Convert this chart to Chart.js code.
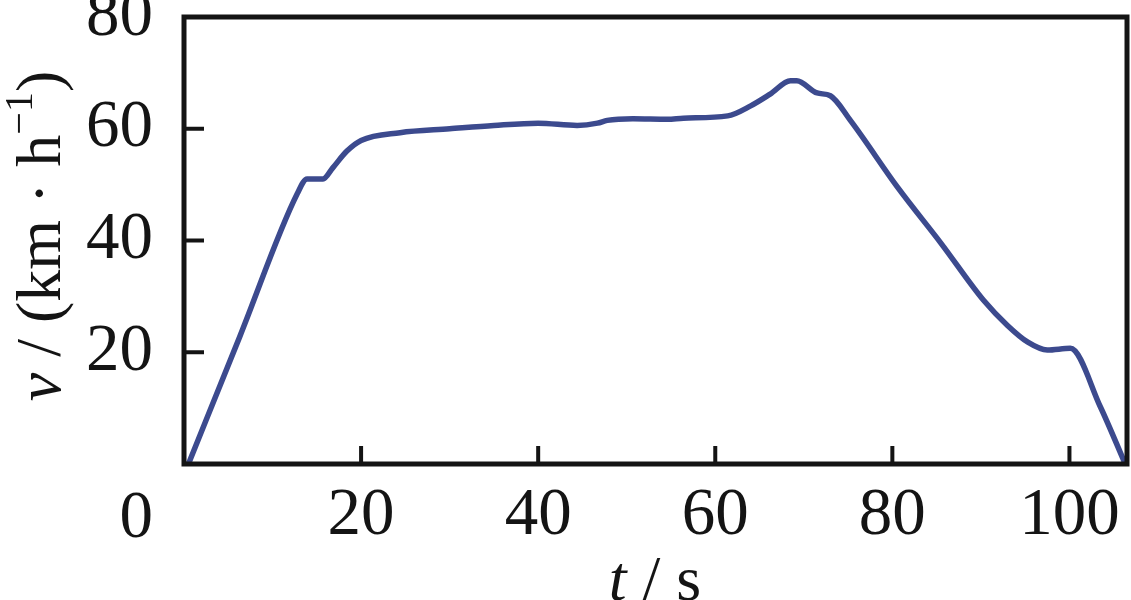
<!DOCTYPE html>
<html>
<head>
<meta charset="utf-8">
<script src="https://cdn.jsdelivr.net/npm/chart.js@4/dist/chart.umd.min.js"></script>
<style>
    html, body { margin: 0; padding: 0; background: #fff; }
    canvas { display: block; }
</style>
</head>
<body>
<canvas id="speedChart" width="1131" height="600"></canvas>
<script>
// values
const timeSec = [0.5, 6.3, 12.8, 13.9, 15.7, 16.8, 18.4, 20, 24.4, 30, 35, 40, 44.4, 46.7, 47.8, 50.7, 54.6, 56.4, 61.4, 64, 66.2, 68.5, 69.2, 71.5, 73, 75.3, 80.6, 85.5, 90.3, 93, 95.3, 97.5, 100.1, 103.5, 106.3];
const speedKmh = [0, 22.8, 48.4, 51, 51, 53, 56, 57.9, 59.3, 60, 60.6, 61, 60.6, 61, 61.5, 61.8, 61.7, 61.9, 62.3, 64.1, 66.2, 68.6, 68.6, 66.4, 65.9, 61.4, 49.5, 39.5, 29.3, 24.8, 21.8, 20.4, 20.7, 10.2, 0];
const xTicks = [20, 40, 60, 80, 100];
const yTicks = [20, 40, 60, 80];

const FONT = "'Liberation Serif', 'Times New Roman', serif";
const INK = "#141414";

/* ---------------------------
   frame, inward ticks, titles
---------------------------- */
const framePlugin = {
    id: "frame",
    afterDraw(chart) {
        const ctx = chart.ctx;
        const area = chart.chartArea;
        const xs = chart.scales.x;
        const ys = chart.scales.y;

        ctx.save();
        ctx.strokeStyle = INK;
        ctx.lineWidth = 5;
        ctx.strokeRect(area.left, area.top, area.right - area.left, area.bottom - area.top);

        ctx.lineWidth = 4;
        ctx.beginPath();
        yTicks.forEach(v => {
            const y = ys.getPixelForValue(v);
            ctx.moveTo(area.left, y);
            ctx.lineTo(area.left + 20, y);
        });
        xTicks.forEach(v => {
            const x = xs.getPixelForValue(v);
            ctx.moveTo(x, area.bottom);
            ctx.lineTo(x, area.bottom - 18);
        });
        ctx.stroke();

        // shared origin label
        ctx.fillStyle = INK;
        ctx.font = `67px ${FONT}`;
        ctx.textAlign = "right";
        ctx.textBaseline = "alphabetic";
        ctx.fillText("0", area.left - 31, 537);

        // x title: t / s
        drawParts(ctx, [
            { text: "t", font: `italic 64px ${FONT}` },
            { text: " / s", font: `64px ${FONT}` }
        ], 655, 600);

        // y title: v / (km · h-1), rotated
        ctx.translate(60, 236);
        ctx.rotate(-Math.PI / 2);
        drawParts(ctx, [
            { text: "v", font: `italic 64px ${FONT}` },
            { text: " / (km \u00b7 h", font: `64px ${FONT}` },
            { text: "\u22121", font: `40px ${FONT}`, rise: 28 },
            { text: ")", font: `64px ${FONT}` }
        ], 0, 0);
        ctx.restore();
    }
};

function drawParts(ctx, parts, cx, baseY) {
    let total = 0;
    parts.forEach(p => {
        ctx.font = p.font;
        p.w = ctx.measureText(p.text).width;
        total += p.w;
    });
    let x = cx - total / 2;
    ctx.textAlign = "left";
    ctx.textBaseline = "alphabetic";
    ctx.fillStyle = INK;
    parts.forEach(p => {
        ctx.font = p.font;
        ctx.fillText(p.text, x, baseY - (p.rise || 0));
        x += p.w;
    });
}

/* ---------------------------
   chart
---------------------------- */
const points = timeSec.map((t, i) => ({ x: t, y: speedKmh[i] }));

new Chart(document.getElementById("speedChart"), {
    type: "line",
    data: {
        datasets: [{
            data: points,
            borderColor: "#3c4a8e",
            borderWidth: 5.5,
            pointRadius: 0,
            fill: false,
            cubicInterpolationMode: "monotone"
        }]
    },
    options: {
        responsive: false,
        animation: false,
        layout: { padding: { left: 0, right: 4, top: 17, bottom: 0 } },
        plugins: {
            legend: { display: false },
            tooltip: { enabled: false }
        },
        scales: {
            x: {
                type: "linear",
                min: 0,
                max: 106.5,
                grid: { display: false, drawTicks: false },
                border: { display: false },
                ticks: {
                    autoSkip: false,
                    maxRotation: 0,
                    padding: 12,
                    color: INK,
                    font: { family: FONT, size: 67 }
                },
                afterBuildTicks(scale) {
                    scale.ticks = xTicks.map(v => ({ value: v }));
                },
                afterFit(scale) {
                    scale.height = 136;
                    scale.paddingLeft = 0;
                    scale.paddingRight = 0;
                }
            },
            y: {
                min: 0,
                max: 80,
                grid: { display: false, drawTicks: false },
                border: { display: false },
                ticks: {
                    autoSkip: false,
                    padding: 31,
                    color: INK,
                    font: { family: FONT, size: 67 }
                },
                afterBuildTicks(scale) {
                    scale.ticks = yTicks.map(v => ({ value: v }));
                },
                afterFit(scale) {
                    scale.width = 184;
                    scale.paddingTop = 0;
                    scale.paddingBottom = 0;
                }
            }
        }
    },
    plugins: [framePlugin]
});
</script>
</body>
</html>
